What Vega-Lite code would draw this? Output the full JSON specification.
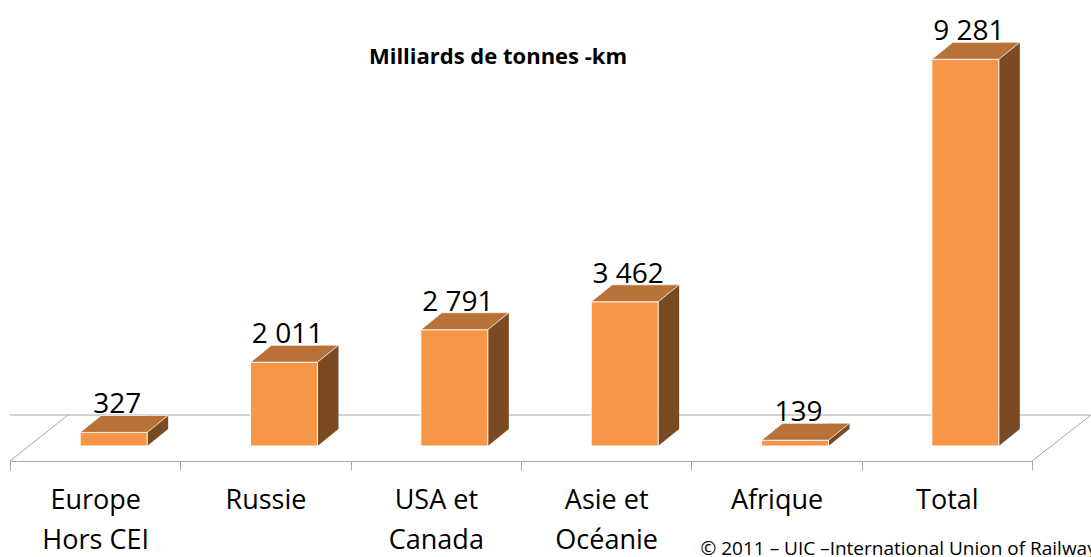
{
  "$schema": "https://vega.github.io/schema/vega-lite/v6.json",
  "width": 1022,
  "height": 446,
  "autosize": {"type": "none"},
  "padding": {"left": 10, "right": 59, "top": 0, "bottom": 111},
  "background": "white",
  "config": {"view": {"stroke": null}, "font": "Open Sans"},
  "title": {
    "text": "Milliards de tonnes -km",
    "font": "Open Sans",
    "fontSize": 22,
    "fontWeight": "bold",
    "color": "black",
    "anchor": "middle",
    "baseline": "alphabetic",
    "offset": 0,
    "dx": -23,
    "dy": 86
  },
  "data": {
    "values": [
      {"cat": "Europe\nHors CEI", "v": 327},
      {"cat": "Russie", "v": 2011},
      {"cat": "USA et\nCanada", "v": 2791},
      {"cat": "Asie et\nOcéanie", "v": 3462},
      {"cat": "Afrique", "v": 139},
      {"cat": "Total", "v": 9281}
    ]
  },
  "layer": [
    {
      "data": {"values": [{}]},
      "mark": {"type": "rule", "color": "#A6A6A6", "strokeWidth": 1, "yOffset": -31, "xOffset": 58, "x2Offset": 59},
      "encoding": {
        "y": {"datum": 0, "type": "quantitative", "scale": {"domain": [0, 10704], "nice": false, "zero": true}, "axis": null}
      }
    },
    {
      "data": {"values": [{}]},
      "mark": {"type": "point", "shape": "M0,15L58,-31", "size": 4, "filled": false, "stroke": "#A6A6A6", "strokeWidth": 1, "opacity": 1},
      "encoding": {
        "x": {"datum": "Europe\nHors CEI", "type": "nominal", "bandPosition": 0},
        "y": {"datum": 0, "type": "quantitative"}
      }
    },
    {
      "data": {"values": [{}]},
      "mark": {"type": "point", "shape": "M0,15L59,-31", "size": 4, "filled": false, "stroke": "#A6A6A6", "strokeWidth": 1, "opacity": 1},
      "encoding": {
        "x": {"datum": "Total", "type": "nominal", "bandPosition": 1},
        "y": {"datum": 0, "type": "quantitative"}
      }
    },
    {
      "mark": {"type": "bar", "width": 21, "xOffset": 62.5, "yOffset": -17, "y2Offset": -17, "fill": "#7A4A22", "strokeWidth": 0},
      "encoding": {
        "x": {
          "field": "cat", "type": "nominal", "sort": null,
          "scale": {"domain": ["Europe\nHors CEI", "Russie", "USA et\nCanada", "Asie et\nOcéanie", "Afrique", "Total"], "paddingInner": 0, "paddingOuter": 0},
          "axis": {
            "title": "© 2011 – UIC –International Union of Railways",
            "titleFont": "Open Sans",
            "titleFontSize": 19,
            "titleFontWeight": "normal",
            "titleColor": "black",
            "titleAnchor": "start",
            "titleAlign": "left",
            "titleBaseline": "alphabetic",
            "titleX": 690,
            "titleY": 93,
            "offset": 15,
            "domainColor": "#A6A6A6",
            "tickColor": "#A6A6A6",
            "tickSize": 9,
            "tickBand": "extent",
            "labelAngle": 0,
            "labelAlign": "center",
            "labelFont": "Open Sans",
            "labelFontSize": 27,
            "labelColor": "black",
            "labelBaseline": "top",
            "labelPadding": 17,
            "labelLineHeight": 40,
            "labelExpr": "split(datum.label, '\\n')"
          }
        },
        "y": {"field": "v", "type": "quantitative"},
        "y2": {"datum": 0}
      }
    },
    {
      "mark": {"type": "point", "shape": "M52,0L52,-17L73,-17Z", "size": 4, "filled": true, "fill": "#7A4A22", "strokeWidth": 0, "opacity": 1},
      "encoding": {
        "x": {"field": "cat", "type": "nominal", "sort": null},
        "y": {"datum": 0, "type": "quantitative"}
      }
    },
    {
      "mark": {"type": "bar", "width": 67, "xOffset": 18.5, "fill": "#F79646", "stroke": "white", "strokeWidth": 1},
      "encoding": {
        "x": {"field": "cat", "type": "nominal", "sort": null},
        "y": {"field": "v", "type": "quantitative"},
        "y2": {"datum": 0}
      }
    },
    {
      "mark": {"type": "point", "shape": "M-15,0L52,0L73,-17L6,-17Z", "size": 4, "filled": true, "fill": "#B87238", "stroke": "white", "strokeWidth": 0.8, "opacity": 1},
      "encoding": {
        "x": {"field": "cat", "type": "nominal", "sort": null},
        "y": {"field": "v", "type": "quantitative"}
      }
    },
    {
      "transform": [{"calculate": "replace(format(datum.v, ',d'), ',', ' ')", "as": "lab"}],
      "mark": {"type": "text", "font": "Open Sans", "fontSize": 28, "color": "black", "dx": 22, "dy": -19, "baseline": "alphabetic", "align": "center"},
      "encoding": {
        "x": {"field": "cat", "type": "nominal", "sort": null},
        "y": {"field": "v", "type": "quantitative"},
        "text": {"field": "lab"}
      }
    }
  ]
}
